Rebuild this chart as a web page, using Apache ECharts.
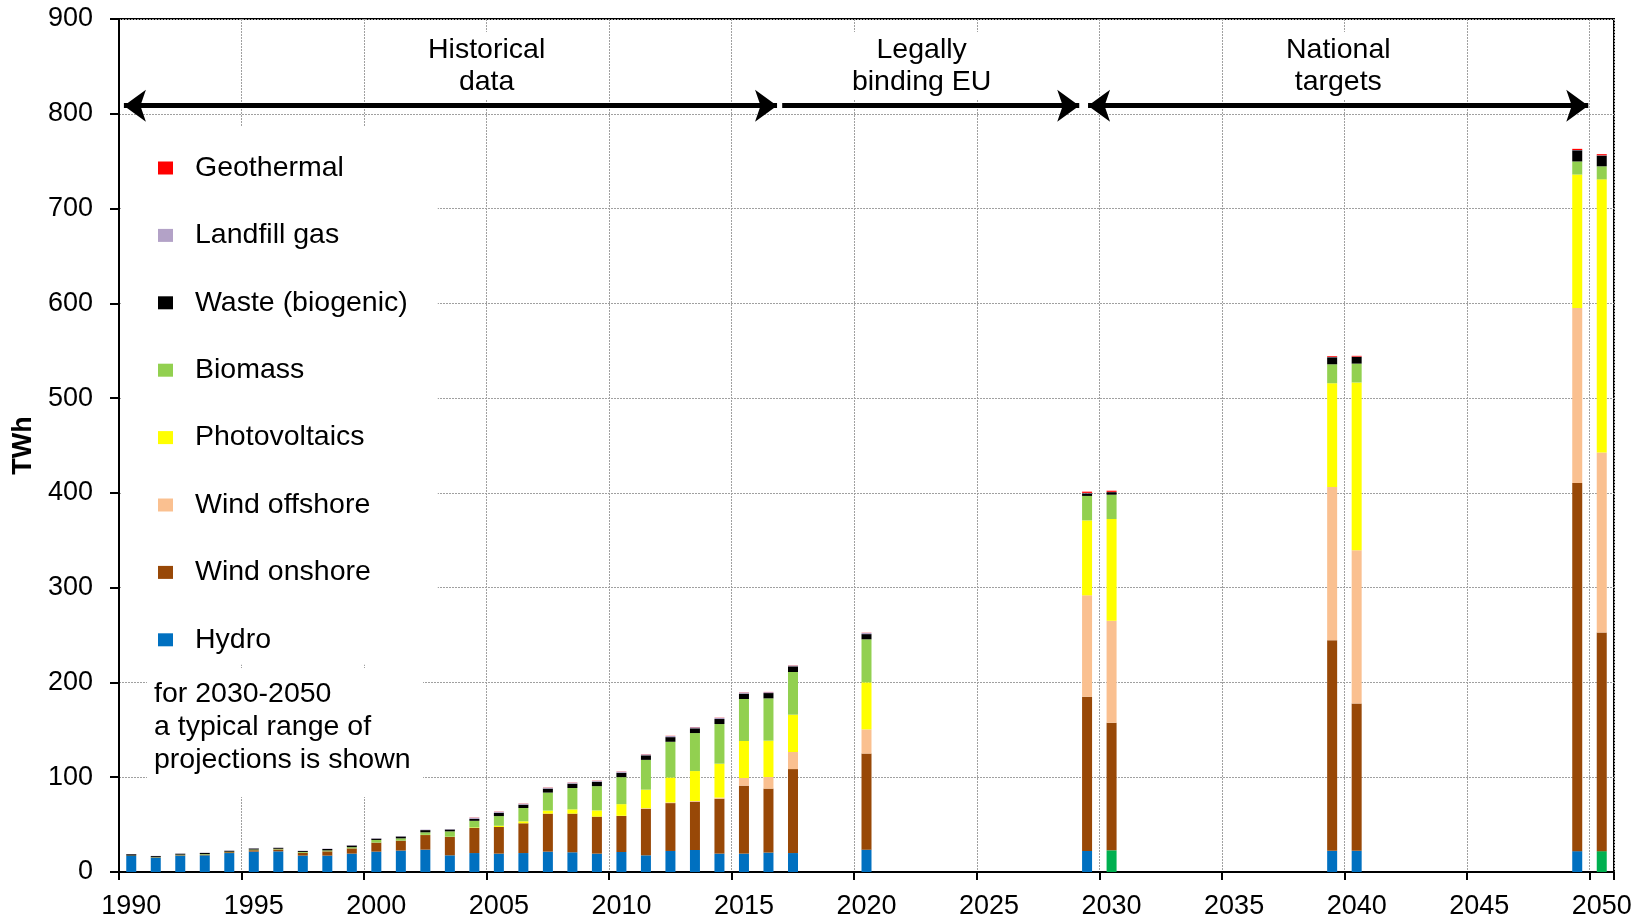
<!DOCTYPE html>
<html><head><meta charset="utf-8">
<script src="https://cdn.jsdelivr.net/npm/echarts@6/dist/echarts.min.js"></script>
<style>html,body{margin:0;padding:0;background:#fff}#c{width:1651px;height:921px}</style>
</head><body><div id="c"></div>
<script>
// ---------- DATA ----------
// category bands (one per year, 1990..2050)
const categories = [];
for (let y = 1990; y <= 2050; y++) categories.push(String(y));

// bands that carry a bar; for 2030/2040/2050 two projections are shown
// side by side (in the band just before and the band of the target year)
const slots = ['1990','1991','1992','1993','1994','1995','1996','1997','1998','1999',
  '2000','2001','2002','2003','2004','2005','2006','2007','2008','2009',
  '2010','2011','2012','2013','2014','2015','2016','2017','2020',
  '2029','2030','2039','2040','2049','2050'];

const hydro = [17,15,17.3,17.6,20,21.5,21.8,17.3,17.3,19.4,
  21.5,22.6,23.6,17.6,20,19.4,20,21.5,20.8,19.4,
  21.1,17.6,22.2,23.2,19.4,19.4,20.5,20,23.6,
  22.2,22.9,22.4,22.4,22,22];
const windOnshore = [0,0.3,0.5,0.7,0.9,1.5,2.0,3.0,4.5,5.5,
  9.5,10.5,15.4,19.3,26.4,28.1,31.4,40.1,40.8,39,
  38,49.1,50.5,51,57.9,71.7,67.5,88.6,101.3,
  162.8,134.7,222,155.3,388.4,230.8];
const windOffshore = [0,0,0,0,0,0,0,0,0,0,
  0,0,0,0,0,0,0,0,0,0,
  0.2,0.6,0.7,0.7,1.2,8.1,12.2,18,25.6,
  106.9,107.6,161.7,161.9,184.8,189.9];
const photovoltaics = [0,0,0,0,0,0,0,0,0,0,
  0,0,0.2,0.3,0.6,1.3,2.1,3.2,4.5,6.6,
  12.3,19.6,26.3,31.6,35.8,39,38.4,39.4,49.6,
  79.1,107.2,109.6,176.9,140.7,288.1];
const biomass = [0.3,0.3,0.5,0.6,0.5,0.7,0.7,0.8,1.0,1.3,
  2.8,2.4,2.7,5.7,7.0,10.2,14,19,22.5,25.6,
  28.5,31.4,37.7,40.1,41.8,44.3,44.6,45,45.4,
  25.8,25.7,20,19.9,13.8,13.8];
const wasteBiogenic = [1.5,1.2,1.0,1.2,1.0,1.2,1.0,1.0,1.5,1.8,
  1.4,2.0,2.3,2.0,2.0,3.4,3.5,4.2,4.6,4.6,
  4.5,4.8,4.9,5.0,5.3,5.7,5.6,6.0,5.5,
  2.7,2.7,7.4,7.1,11.8,11.3];
const landfillGas = [0.2,0.2,0.3,0.3,0.3,0.4,0.3,0.4,0.4,0.5,
  0.4,0.5,0.5,0.5,1.3,1.2,1.1,1.0,1.1,1.0,
  1.3,1.0,1.2,1.2,1.3,1.2,1.0,0.9,1.3,
  0.5,0.3,0.3,0.3,0.3,0.3];
const geothermal = [0,0,0,0,0,0,0,0,0,0,
  0,0,0,0,0.2,0.2,0.2,0.2,0.2,0.2,
  0.2,0.2,0.2,0.2,0.2,0.2,0.2,0.2,0.2,
  1.3,1.2,0.8,0.8,1.2,1.2];

// annotation texts / arrows (x in years on a linear year scale, y in TWh)
const periodLabels = [
  {text:'Historical\ndata', x:2005.0, y:850.5},
  {text:'Legally\nbinding EU', x:2022.75, y:850.5},
  {text:'National\ntargets', x:2039.75, y:850.5}
];
const periodArrows = [
  {from:1990.2, to:2016.85, y:808.5, left:true, right:true},
  {from:2017.06, to:2029.18, y:808.5, left:false, right:true},
  {from:2029.54, to:2049.95, y:808.5, left:true, right:true}
];
const footnote = 'for 2030-2050\na typical range of\nprojections is shown';

// ---------- STYLE ----------
const FONT = '"Liberation Sans", Arial, Helvetica, sans-serif';
const seriesDefs = [
  {name:'Hydro', data:hydro, color:'#0070C0'},
  {name:'Wind onshore', data:windOnshore, color:'#984807'},
  {name:'Wind offshore', data:windOffshore, color:'#FAC090'},
  {name:'Photovoltaics', data:photovoltaics, color:'#FFFF00'},
  {name:'Biomass', data:biomass, color:'#92D050'},
  {name:'Waste (biogenic)', data:wasteBiogenic, color:'#000000'},
  {name:'Landfill gas', data:landfillGas, color:'#B3A2C7'},
  {name:'Geothermal', data:geothermal, color:'#FF0000'}
];
const altHydroSlots = ['2030','2050']; // these bars show hydro in green
const ALT_HYDRO = '#00B050';

function toCategoryData(vals, name){
  const out = categories.map(() => null);
  slots.forEach((s, i) => {
    const idx = categories.indexOf(s);
    if (name === 'Hydro' && altHydroSlots.includes(s)) {
      out[idx] = {value: vals[i], itemStyle: {color: ALT_HYDRO}};
    } else out[idx] = vals[i];
  });
  return out;
}

const chart = echarts.init(document.getElementById('c'), null, {renderer:'canvas'});

const gridLine = {show:true, lineStyle:{color:'#a0a0a0', width:1, type:[2,1]}};

const series = seriesDefs.map(d => ({
  name:d.name, type:'bar', stack:'total', barWidth:10,
  xAxisIndex:0, yAxisIndex:0,
  itemStyle:{color:d.color},
  data: toCategoryData(d.data, d.name),
  silent:true
}));

series.push({
  name:'periods', type:'line', xAxisIndex:1, yAxisIndex:0, data:[], silent:true,
  markLine:{
    silent:true, animation:false,
    symbolSize:[24,22],
    lineStyle:{color:'#000', width:5, type:'solid'},
    label:{show:false},
    emphasis:{disabled:true},
    data: periodArrows.map(a => [
      {coord:[a.from, a.y], symbol: a.left ? 'arrow' : 'none'},
      {coord:[a.to, a.y], symbol: a.right ? 'arrow' : 'none'}
    ])
  }
});

const option = {
  animation:false,
  backgroundColor:'#fff',
  textStyle:{fontFamily:FONT},
  grid:{left:119, right:37, top:19, bottom:49, show:true, borderColor:'#000', borderWidth:2,
        outerBoundsMode:'none', containLabel:false},
  legend:{
    data:['Geothermal','Landfill gas','Waste (biogenic)','Biomass','Photovoltaics','Wind offshore','Wind onshore','Hydro'],
    orient:'vertical', left:121, top:126,
    padding:[27,30,10,37],
    backgroundColor:'#fff',
    itemWidth:15, itemHeight:13, itemGap:37.4,
    icon:'rect', selectedMode:false,
    textStyle:{fontSize:28.5, fontFamily:FONT, color:'#000', lineHeight:30, padding:[0,0,0,17]},
    z:10
  },
  xAxis:[{
    type:'category', data:categories, boundaryGap:true,
    axisLine:{show:true, lineStyle:{color:'#000', width:2}},
    axisTick:{show:true, interval:4, length:8, lineStyle:{color:'#000', width:2}},
    axisLabel:{interval:4, fontSize:27, fontFamily:FONT, color:'#000', margin:21},
    splitLine:Object.assign({interval:4}, gridLine)
  },{
    type:'value', min:1990, max:2051, show:false
  }],
  yAxis:{
    type:'value', min:0, max:900, interval:100,
    name:'TWh', nameLocation:'middle', nameGap:80, nameRotate:90,
    nameTextStyle:{fontSize:27, fontWeight:'bold', fontFamily:FONT, color:'#000'},
    axisLine:{show:true, lineStyle:{color:'#000', width:2}},
    axisTick:{show:true, length:9, lineStyle:{color:'#000', width:2}},
    axisLabel:{fontSize:27, fontFamily:FONT, color:'#000', margin:26},
    splitLine:gridLine
  },
  series:series
};
chart.setOption(option);

const graphics = periodLabels.map(a => {
  const p = chart.convertToPixel({xAxisIndex:1, yAxisIndex:0}, [a.x, a.y]);
  return {type:'text', x:p[0], y:p[1], z:50, silent:true,
    style:{text:a.text, fontSize:28.5, fontFamily:FONT, fill:'#000', align:'center', verticalAlign:'middle',
           lineHeight:32, backgroundColor:'#fff', padding:[2,6]}};
});
graphics.push({type:'rect', shape:{x:147, y:668, width:276, height:129}, style:{fill:'#fff'}, z:40, silent:true});
graphics.push({type:'text', x:154, y:678, z:50, silent:true,
  style:{text:footnote, fontSize:28.5, fontFamily:FONT, fill:'#000', align:'left', verticalAlign:'top', lineHeight:33}});
chart.setOption({graphic:graphics});
</script></body></html>
